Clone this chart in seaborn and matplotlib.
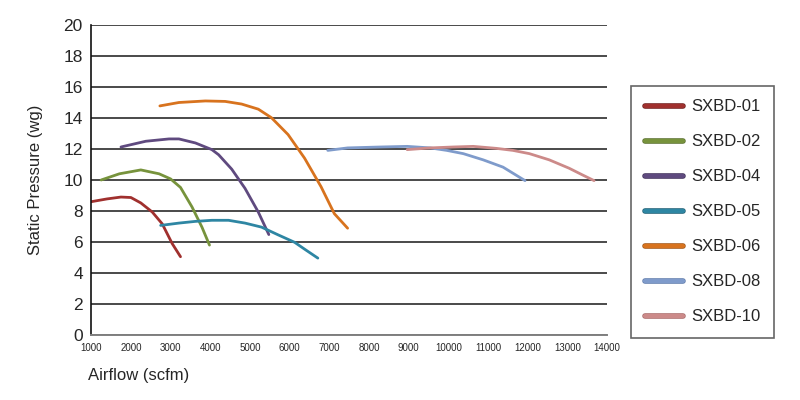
import pandas as pd
import matplotlib
matplotlib.use("Agg")
import matplotlib.pyplot as plt
import seaborn as sns
from matplotlib.lines import Line2D
import matplotlib.patheffects as pe

# fan curves (airflow scfm, static pressure wg)
models = ['SXBD-01', 'SXBD-02', 'SXBD-04', 'SXBD-05', 'SXBD-06', 'SXBD-08', 'SXBD-10']

sxbd01_x = [1000, 1400, 1750, 2000, 2250, 2540, 2790, 3040, 3250]
sxbd01_y = [8.6, 8.78, 8.9, 8.87, 8.52, 7.93, 7.17, 5.9, 5.05]

sxbd02_x = [1250, 1710, 2250, 2710, 3000, 3250, 3540, 3790, 3980]
sxbd02_y = [10.0, 10.4, 10.65, 10.4, 10.07, 9.52, 8.26, 6.96, 5.8]

sxbd04_x = [1750, 2375, 2960, 3210, 3625, 4040, 4210, 4540, 4875, 5210, 5475]
sxbd04_y = [12.13, 12.5, 12.65, 12.65, 12.39, 11.96, 11.63, 10.7, 9.46, 7.93, 6.48]

sxbd05_x = [2750, 3210, 3625, 4040, 4460, 4875, 5290, 5710, 6125, 6375, 6710]
sxbd05_y = [7.07, 7.22, 7.33, 7.4, 7.4, 7.22, 6.96, 6.46, 5.98, 5.54, 4.96]

sxbd06_x = [2730, 3210, 3875, 4375, 4790, 5210, 5540, 5960, 6375, 6790, 7125, 7460]
sxbd06_y = [14.78, 15.0, 15.1, 15.07, 14.9, 14.57, 14.02, 12.93, 11.41, 9.57, 7.83, 6.89]

sxbd08_x = [6960, 7460, 8290, 8960, 9540, 9960, 10375, 10875, 11375, 11930]
sxbd08_y = [11.91, 12.07, 12.13, 12.17, 12.07, 11.91, 11.7, 11.3, 10.83, 9.96]

sxbd10_x = [8960, 9540, 10125, 10625, 11210, 11625, 12040, 12540, 13040, 13375, 13670]
sxbd10_y = [11.96, 12.07, 12.13, 12.17, 12.04, 11.91, 11.7, 11.3, 10.76, 10.33, 9.96]

xs = [sxbd01_x, sxbd02_x, sxbd04_x, sxbd05_x, sxbd06_x, sxbd08_x, sxbd10_x]
ys = [sxbd01_y, sxbd02_y, sxbd04_y, sxbd05_y, sxbd06_y, sxbd08_y, sxbd10_y]

colors = ['#A0302E', '#77933C', '#5F4A7F', '#2E86A3', '#D8731E', '#7F9BCB', '#CC8A89']
edge_colors = ['#6E1F1E', '#5A7030', '#3F3058', '#1E5E73', '#A05516', '#5F7BAB', '#A86A69']

frames = []
for name, x, y in zip(models, xs, ys):
    frames.append(pd.DataFrame({'Airflow': x, 'Pressure': y, 'Model': name}))
df = pd.concat(frames, ignore_index=True)

sns.set_style('white')
plt.rcParams['font.family'] = ['Liberation Sans', 'DejaVu Sans']

fig = plt.figure(figsize=(8, 4), dpi=100)
ax = fig.add_axes([0.114, 0.1625, 0.645, 0.775])

sns.lineplot(data=df, x='Airflow', y='Pressure', hue='Model', palette=dict(zip(models, colors)),
             sort=False, estimator=None, linewidth=2, ax=ax, legend=False)

ax.set_xlim(1000, 14000)
ax.set_ylim(0, 20)
ax.set_xticks(range(1000, 14001, 1000))
ax.set_yticks(range(0, 21, 2))
ax.tick_params(axis='x', labelsize=7, length=4, width=1, color='#808080', direction='out', pad=2)
ax.tick_params(axis='y', labelsize=12.5, length=4, width=1, color='#202020', direction='out', pad=2)
ax.yaxis.grid(True, color='#4a4a4a', linewidth=1.4)
ax.xaxis.grid(False)
ax.set_axisbelow(True)
for s in ['top', 'right']:
    ax.spines[s].set_visible(False)
ax.spines['left'].set_color('#101010')
ax.spines['left'].set_linewidth(1.2)
ax.spines['bottom'].set_color('#808080')
ax.spines['bottom'].set_linewidth(1.4)

ax.set_xlabel('')
ax.set_ylabel('')
fig.text(0.044, 0.55, 'Static Pressure (wg)', rotation=90, ha='center', va='center', fontsize=12)
fig.text(0.11, 0.062, 'Airflow (scfm)', ha='left', va='center', fontsize=12)

handles = [Line2D([0], [0], color=c, linewidth=3,
                  path_effects=[pe.Stroke(linewidth=4, foreground=e), pe.Normal()])
           for c, e in zip(colors, edge_colors)]
leg = fig.legend(handles, models, loc='upper left', bbox_to_anchor=(0.789, 0.785),
                 fontsize=12, frameon=True, fancybox=False, edgecolor='#404040',
                 handlelength=2.3, handletextpad=0.5, labelspacing=1.2,
                 borderpad=0.8, borderaxespad=0)
leg.get_frame().set_linewidth(1.2)
# stretch the frame to the reference width
fig.canvas.draw()
bb = leg.get_frame().get_bbox()
leg.get_frame().set_width(774 - bb.x0)

fig.savefig('out.png', dpi=100)
